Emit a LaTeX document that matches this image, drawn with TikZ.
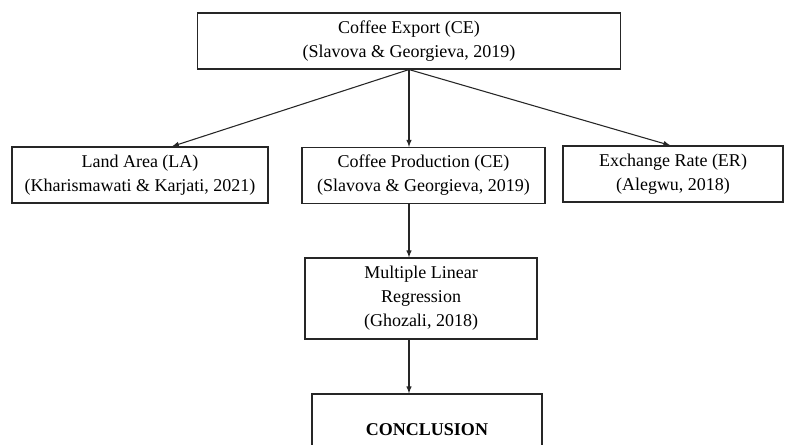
\documentclass[tikz,border=0pt]{standalone}
\usepackage{fontspec}
\setmainfont{Liberation Serif}
\tikzset{
  box/.style={draw=black!85, line width=0.85pt, align=center, inner sep=2pt,
    font=\fontsize{13.5}{18}\selectfont},
  link/.style={-latex, line width=0.8pt, black!85}
}

\begin{document}
\begin{tikzpicture}[x=0.75pt, y=-0.75pt]
	\clip (0, 0) rectangle (786, 445);
	\fill[white] (0, 0) rectangle (786, 445);

	\node[box, minimum width=317.25pt, minimum height=42pt] (export) at (409, 41)
		{Coffee Export (CE)\\(Slavova \& Georgieva, 2019)};

	\node[box, minimum width=192pt, minimum height=42pt] (land) at (140, 175)
		{Land Area (LA)\\(Kharismawati \& Karjati, 2021)};
	\node[box, minimum width=182.25pt, minimum height=42pt] (prod) at (423.5, 175.5)
		{Coffee Production (CE)\\(Slavova \& Georgieva, 2019)};
	\node[box, minimum width=165pt, minimum height=42pt] (rate) at (673, 174)
		{Exchange Rate (ER)\\(Alegwu, 2018)};

	\node[box, minimum width=174pt, minimum height=60.75pt] (mlr) at (421, 298.5)
		{Multiple Linear\\Regression\\(Ghozali, 2018)};

	\node[box, minimum width=172.5pt, minimum height=54pt] (concl) at (427, 430)
		{\bfseries CONCLUSION};

	\draw[link] (export.south) -- ([xshift=24pt]land.north);
	\draw[link] (export.south) -- (export.south |- prod.north);
	\draw[link] (export.south) -- ([xshift=-2pt]rate.north);
	\draw[link] (export.south |- prod.south) -- (export.south |- mlr.north);
	\draw[link] (export.south |- mlr.south) -- (export.south |- concl.north);
\end{tikzpicture}
\end{document}
